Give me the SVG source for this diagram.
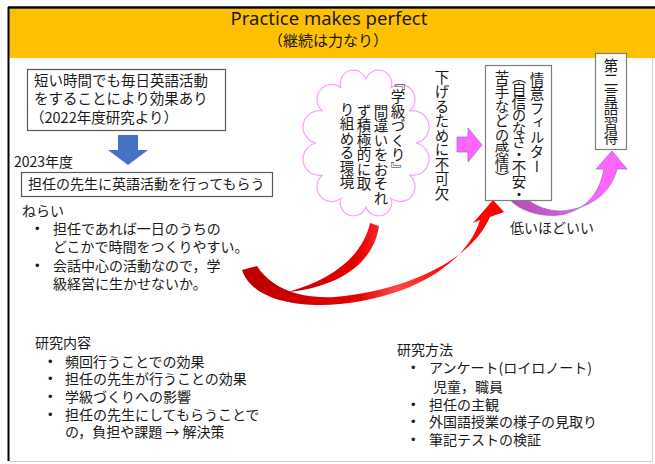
<svg xmlns="http://www.w3.org/2000/svg" width="655" height="464" viewBox="0 0 655 464">
<defs>
<style>
.t{font-family:"Noto Sans CJK JP","Noto Sans",sans-serif;fill:#1a1a1a;}
.b{font-family:"Liberation Sans",sans-serif;fill:#1a1a1a;font-size:13px;}
.v{font-family:"Noto Sans CJK JP",sans-serif;fill:#1a1a1a;writing-mode:vertical-rl;font-size:14.5px;}
.box{fill:#fff;stroke:#595959;stroke-width:1.2;}
.box2{fill:#fff;stroke:#7f7f7f;stroke-width:1.2;}
</style>
<linearGradient id="red" gradientUnits="userSpaceOnUse" x1="242" y1="0" x2="500" y2="0">
<stop offset="0" stop-color="#b80000"/>
<stop offset="0.45" stop-color="#e80000"/>
<stop offset="0.6" stop-color="#ff4a4a"/>
<stop offset="0.75" stop-color="#ff1010"/>
<stop offset="1" stop-color="#ff0000"/>
</linearGradient>
<linearGradient id="pink" gradientUnits="userSpaceOnUse" x1="510" y1="0" x2="625" y2="0">
<stop offset="0" stop-color="#b34db3"/>
<stop offset="0.4" stop-color="#d05ad0"/>
<stop offset="0.6" stop-color="#ff66ff"/>
<stop offset="1" stop-color="#ff66ff"/>
</linearGradient>
</defs>
<rect width="655" height="464" fill="#fff"/>
<g id="frame">
<rect x="9" y="9" width="646" height="49" fill="#ffc000"/>
<line x1="8" y1="7.5" x2="655" y2="7.5" stroke="#000" stroke-width="2.5"/>
<line x1="8.5" y1="7" x2="8.5" y2="461" stroke="#000" stroke-width="2"/>
<line x1="652.5" y1="58" x2="652.5" y2="462" stroke="#d0d0d0" stroke-width="1"/>
<line x1="9" y1="461.5" x2="653" y2="461.5" stroke="#d0d0d0" stroke-width="1"/>
</g>
<g id="title">
<text x="329" y="25" text-anchor="middle" style="font-family:'Noto Sans',sans-serif;font-size:18.5px;fill:#1a1a1a">Practice makes perfect</text>
<text x="328" y="46" text-anchor="middle" class="t" font-size="15">（継続は力なり）</text>
</g>
<g id="connectors">
<path d="M 370 223 L 379 226 C 374 262, 340 287, 288 292 C 330 280, 362 258, 370 223 Z" fill="url(#red)"/>
<path d="M 242 270 C 252 300, 298 308, 340 304 C 410 297, 466 265, 480 220 L 473 223 L 493 200 L 504 212 L 490 217 C 472 259, 410 290, 335 297 C 295 299, 270 286, 257 266 Z" fill="url(#red)"/>
<path d="M 510 200 C 524 214, 548 218, 565 214 C 590 207, 600 190, 604 169 L 596 169 L 612 151 L 627 169 L 617 169 C 611 193, 590 209, 561 211 C 547 211, 536 206, 528 200 Z" fill="url(#pink)" stroke="#9966cc" stroke-width="0.7"/>
<polygon points="457,137 468,137 468,128 482,145 468,162 468,152 457,152" fill="#ff66ff" stroke="#9966cc" stroke-width="0.7"/>
<path d="M 118 135 L 138 135 L 138 150 L 148 150 L 128 165 L 108 150 L 118 150 Z" fill="#4472c4"/>
</g>
<g id="node-box1">
<rect x="27.5" y="69.5" width="198" height="61" class="box"/>
<text class="t" font-size="14.5" x="34" y="85.5">短い時間でも毎日英語活動</text>
<text class="t" font-size="14.5" x="34" y="104">をすることにより効果あり</text>
<text class="t" font-size="14.5" x="30" y="122.5">（2022年度研究より）</text>
</g>
<g id="node-2023">
<text class="t" font-size="14" x="14" y="167">2023年度</text>
</g>
<g id="node-box2">
<rect x="21.5" y="172.5" width="251" height="24" class="box"/>
<text class="t" font-size="14" x="28" y="189">担任の先生に英語活動を行ってもらう</text>
</g>
<g id="node-nerai" class="t" font-size="14">
<text x="22" y="216">ねらい</text>
<text class="b" x="35" y="233">•</text>
<text x="53" y="234">担任であれば一日のうちの</text>
<text x="53" y="252">どこかで時間をつくりやすい。</text>
<text class="b" x="35" y="270">•</text>
<text x="53" y="271">会話中心の活動なので，学</text>
<text x="53" y="289">級経営に生かせないか。</text>
</g>
<g id="node-cloud">
<path d="M 366 79 A 10 10 0 0 1 391 87.6 A 10 10 0 0 1 409.3 111 A 10 10 0 0 1 416 143 A 10 10 0 0 1 409.3 175 A 10 10 0 0 1 391 198.4 A 10 10 0 0 1 366 207 A 10 10 0 0 1 341 198.4 A 10 10 0 0 1 322.7 175 A 10 10 0 0 1 316 143 A 10 10 0 0 1 322.7 111 A 10 10 0 0 1 341 87.6 A 10 10 0 0 1 366 79 Z" fill="#fff" stroke="#ff9cff" stroke-width="1.2"/>
<text class="v" x="398" y="75">『学級づくり』</text>
<text class="v" x="381" y="104">間違いをおそれ</text>
<text class="v" x="364" y="104">ず積極的に取</text>
<text class="v" x="347" y="102">り組める環境</text>
</g>
<g id="node-fukaketsu">
<text class="v" x="442" y="70">下げるために不可欠</text>
</g>
<g id="node-filter">
<rect x="485.5" y="65.5" width="66" height="135" class="box2"/>
<text class="v" x="537" y="72">情意フィルター</text>
<text class="v" x="519" y="69" style="letter-spacing:-1.4px">（自信のなさ・不安・</text>
<text class="v" x="502" y="70">苦手などの感情）</text>
</g>
<g id="node-acquisition">
<rect x="595.5" y="53.5" width="31" height="96" class="box2"/>
<text class="v" x="611" y="58">第二言語習得</text>
</g>
<g id="node-low">
<text class="t" font-size="14" x="510" y="233">低いほどいい</text>
</g>
<g id="node-content" class="t" font-size="14">
<text x="35" y="348">研究内容</text>
<text class="b" x="48" y="366">•</text><text x="65" y="367">頻回行うことでの効果</text>
<text class="b" x="48" y="383">•</text><text x="65" y="384">担任の先生が行うことの効果</text>
<text class="b" x="48" y="401">•</text><text x="65" y="402">学級づくりへの影響</text>
<text class="b" x="48" y="419">•</text><text x="65" y="420">担任の先生にしてもらうことで</text>
<text x="65" y="437">の，負担や課題 → 解決策</text>
</g>
<g id="node-method" class="t" font-size="14">
<text x="397" y="355">研究方法</text>
<text class="b" x="411" y="372">•</text><text x="429" y="373">アンケート(ロイロノート)</text>
<text x="433" y="392">児童，職員</text>
<text class="b" x="411" y="409">•</text><text x="429" y="410">担任の主観</text>
<text class="b" x="411" y="426">•</text><text x="429" y="427">外国語授業の様子の見取り</text>
<text class="b" x="411" y="444">•</text><text x="429" y="445">筆記テストの検証</text>
</g>
</svg>
